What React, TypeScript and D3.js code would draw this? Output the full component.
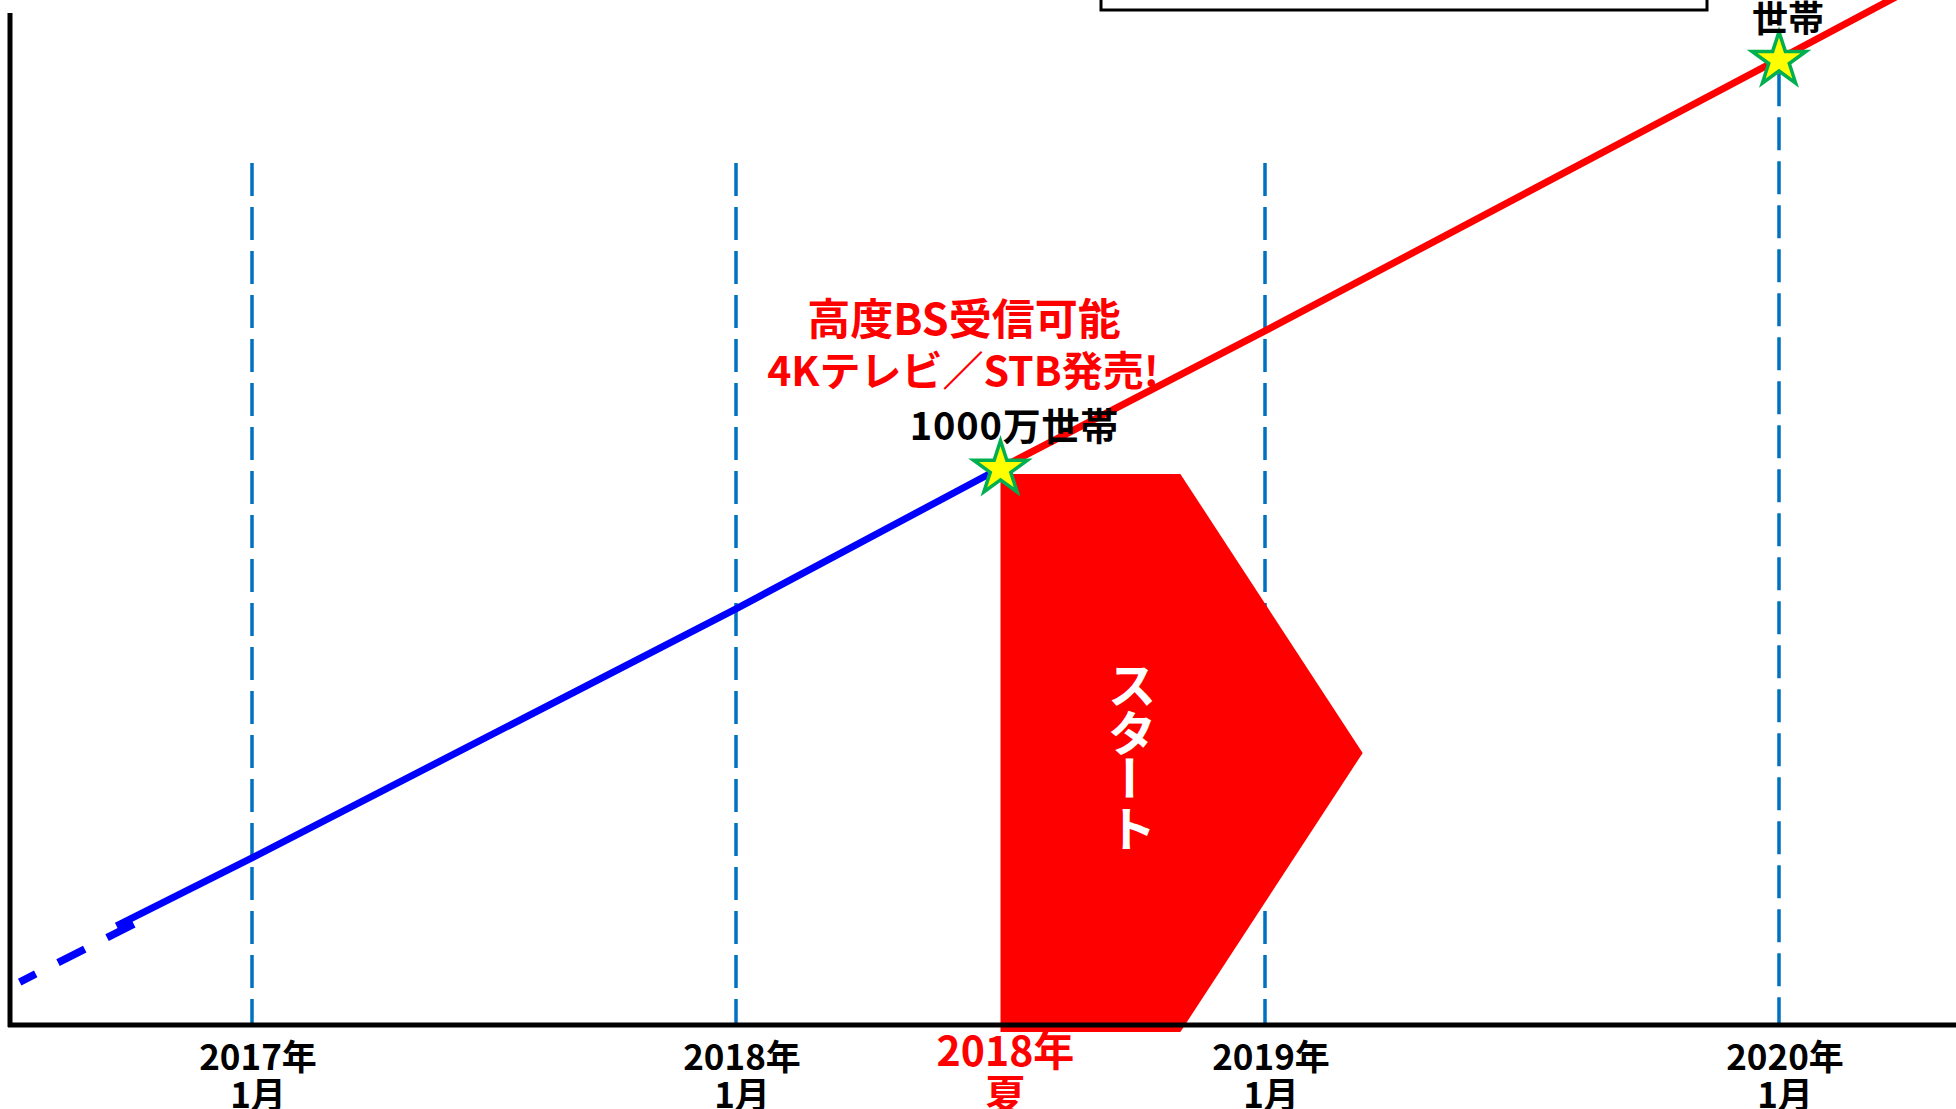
import React from "react";
import * as d3 from "d3";

// ---- data ----
const tickYears = [2017, 2018, 2019, 2020];
const tickYearLabels = ["2017年", "2018年", "2019年", "2020年"];
const tickMonthLabels = ["1月", "1月", "1月", "1月"];

// early (dashed) part of the household curve
const dashedYears = [2016.52, 2016.76];
const dashedValues = [77, 183];
// blue: before broadcast start
const blueYears = [2016.72, 2017, 2018, 2018.5];
const blueValues = [178, 300, 747, 1000];
// red: after broadcast start
const redYears = [2018.5, 2019, 2020, 2020.35];
const redValues = [1000, 1246, 1734, 1906];

// milestones (stars)
const starYears = [2018.5, 2020];
const starValues = [1000, 1734];

const launchYear = 2018.5;
const launchLabel = ["2018年", "夏"];
const announceLines = ["高度BS受信可能", "4Kテレビ／STB発売!"];
const milestoneLabel = "1000万世帯";
const milestone2Label = "世帯";
const startText = ["ス", "タ", "ー", "ト"];

const W = 1956;
const H = 1109;
const FONT = "'Noto Sans CJK JP', 'Noto Sans', sans-serif";

export default function App() {
  const x = d3
    .scaleLinear()
    .domain([2016.5, 2017, 2018, 2019, 2020, 2020.35])
    .range([10, 252, 736, 1265, 1779, 1959]);
  const y = d3.scaleLinear().domain([0, 1000]).range([1025, 468]);

  const mk = (ys: number[], vs: number[]) =>
    d3.line<number>().x((d) => x(d)).y((_, i) => y(vs[i]))(ys) || "";

  const starPath = d3.symbol().type(d3.symbolStar).size(900)() || "";

  const axisY = y(0);
  const gridTop = 163;

  const lx = x(launchYear);
  const arrowTop = 474;
  const arrowBottom = 1032;
  const arrowBodyRight = x(2018.84);
  const arrowTip = x(2019.19);
  const arrowMid = (arrowTop + arrowBottom) / 2;
  const arrowPts = [
    [lx, arrowTop],
    [arrowBodyRight, arrowTop],
    [arrowTip, arrowMid],
    [arrowBodyRight, arrowBottom],
    [lx, arrowBottom],
  ];

  return (
    <svg
      width={W}
      height={H}
      style={{ position: "absolute", left: 0, top: 0, background: "#fff" }}
      fontFamily={FONT}
    >
      {/* top box (cut off) */}
      <rect x={1101} y={-80} width={606} height={90} fill="#fff" stroke="#000" strokeWidth={3} />

      {/* vertical dashed year lines */}
      {tickYears.map((t) => {
        const top = t === 2020 ? y(starValues[1]) - 30 : gridTop;
        return (
          <line
            key={t}
            x1={x(t)}
            x2={x(t)}
            y1={top}
            y2={axisY}
            stroke="#0070C0"
            strokeWidth={3.5}
            strokeDasharray="33 11"
          />
        );
      })}

      {/* start arrow */}
      <polygon points={arrowPts.map((p) => p.join(",")).join(" ")} fill="#FF0000" />
      {startText.map((c, i) => {
        const cx = 1132;
        const cy = 682 + i * 48;
        return (
          <text
            key={i}
            x={cx}
            y={cy}
            fill="#fff"
            fontSize={48}
            fontWeight={700}
            textAnchor="middle"
            dominantBaseline="central"
            transform={c === "ー" ? `rotate(90 ${cx} ${cy})` : undefined}
          >
            {c}
          </text>
        );
      })}

      {/* household curve */}
      <path
        d={mk(dashedYears, dashedValues)}
        fill="none"
        stroke="#0000FF"
        strokeWidth={7.5}
        strokeDasharray="30 25"
        strokeDashoffset={12}
      />
      <path d={mk(blueYears, blueValues)} fill="none" stroke="#0000FF" strokeWidth={7} />
      <path d={mk(redYears, redValues)} fill="none" stroke="#FF0000" strokeWidth={7} />

      {/* stars */}
      {starYears.map((t, i) => (
        <path
          key={t}
          d={starPath}
          transform={`translate(${x(t)},${y(starValues[i]) + 1})`}
          fill="#FFFF00"
          stroke="#00B050"
          strokeWidth={3.5}
          strokeLinejoin="miter"
        />
      ))}

      {/* axes */}
      <line x1={10} x2={10} y1={13} y2={axisY + 2} stroke="#000" strokeWidth={5} />
      <line x1={8} x2={W} y1={axisY} y2={axisY} stroke="#000" strokeWidth={5} />

      {/* tick labels */}
      {tickYears.map((t, i) => (
        <text
          key={t}
          fontWeight={700}
          fill="#000"
          fontSize={35}
          textAnchor="middle"
          dominantBaseline="central"
        >
          <tspan x={x(t) + 6} y={1054}>
            {tickYearLabels[i]}
          </tspan>
          <tspan x={x(t) + 6} y={1092}>
            {tickMonthLabels[i]}
          </tspan>
        </text>
      ))}
      <text fontWeight={700} fill="#FF0000" fontSize={41} textAnchor="middle" dominantBaseline="central">
        <tspan x={lx + 5} y={1048}>
          {launchLabel[0]}
        </tspan>
        <tspan x={lx + 5} y={1092}>
          {launchLabel[1]}
        </tspan>
      </text>

      {/* annotations */}
      <text fontWeight={700} fill="#FF0000" textAnchor="middle" dominantBaseline="central">
        <tspan x={964} y={316} fontSize={43}>
          {announceLines[0]}
        </tspan>
        <tspan x={963} y={368} fontSize={41}>
          {announceLines[1]}
        </tspan>
      </text>
      <text
        x={x(starYears[0]) + 14}
        y={423}
        fontWeight={700}
        fontSize={38}
        letterSpacing={0.8}
        textAnchor="middle"
        dominantBaseline="central"
        fill="#000"
      >
        {milestoneLabel}
      </text>
      <text
        x={x(starYears[1]) + 9}
        y={16}
        fontWeight={700}
        fontSize={36}
        textAnchor="middle"
        dominantBaseline="central"
        fill="#000"
      >
        {milestone2Label}
      </text>
    </svg>
  );
}
